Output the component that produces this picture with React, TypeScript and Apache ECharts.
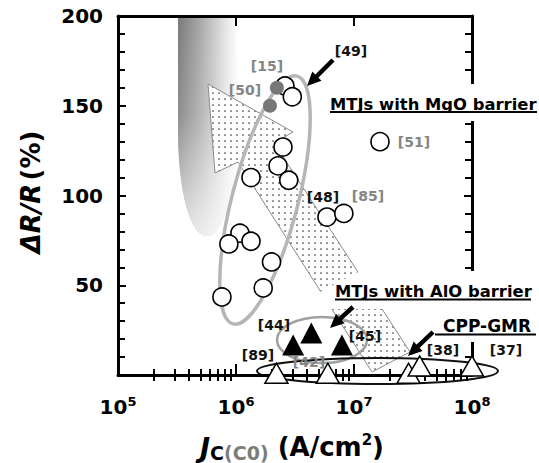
import React, { useEffect, useRef } from 'react';
import * as echarts from 'echarts';

// ---------- data ----------
// MTJs with MgO barrier (open circles)
const mgoJc = [2.6e6, 3.0e6, 2.5e6, 2.27e6, 2.8e6, 1.34e6, 5.9e6, 8.2e6, 1.66e7, 1.08e6, 8.7e5, 1.34e6, 2.0e6, 1.7e6, 7.6e5];
const mgoMR = [161, 155, 127, 116.5, 108.5, 110, 88, 90, 130, 79, 73, 74.5, 63, 48.5, 43.5];
// refs [15], [50] (grey filled circles)
const greyJc = [2.22e6, 1.94e6];
const greyMR = [160, 150];
// MTJs with AlO barrier (black triangles)
const aloJc = [3.05e6, 4.35e6, 7.9e6];
const aloMR = [16.7, 23.4, 16.7];
// CPP-GMR (open triangles)
const gmrJc = [2.2e6, 6.0e6, 2.9e7, 3.6e7, 1.0e8];
const gmrMR = [1, 1, 1, 5, 5];
// ticks
const xMajorTicks = [1e5, 1e6, 1e7, 1e8];
const yTickLabels = [50, 100, 150, 200];
const xMinorTicks: number[] = [];
for (let d = 5; d < 8; d++) for (let m = 2; m <= 9; m++) xMinorTicks.push(m * Math.pow(10, d));

const FONT = '"DejaVu Sans", "Liberation Sans", Arial, sans-serif';
const GREY_TXT = '#858585';

echarts.graphic.registerShape(
  'tongue',
  echarts.graphic.extendPath('M178,17 L238,17 L238,120 C238,190 224,236 207,236 C190,236 178,190 178,130 Z', {})
);

function arrowEls(x1: number, y1: number, x2: number, y2: number, w = 4.5, hl = 14, hw = 13) {
  const dx = x2 - x1, dy = y2 - y1, L = Math.hypot(dx, dy);
  const ux = dx / L, uy = dy / L, px = -uy, py = ux;
  const bx = x2 - ux * hl, by = y2 - uy * hl;
  return [
    { type: 'line', z: 31, shape: { x1, y1, x2: bx + ux * 2, y2: by + uy * 2 }, style: { stroke: '#000', lineWidth: w } },
    {
      type: 'polygon', z: 31,
      shape: { points: [[x2, y2], [bx + (px * hw) / 2, by + (py * hw) / 2], [bx - (px * hw) / 2, by - (py * hw) / 2]] },
      style: { fill: '#000' },
    },
  ];
}

function txt(text: string, x: number, y: number, font: string, fill: string, align = 'center') {
  return {
    type: 'text', z: 32, x, y,
    style: { text, font, fill, align, verticalAlign: 'middle', textAlign: align, textVerticalAlign: 'middle' },
  };
}

function buildGraphics(dotURL: string) {
  const dotFill: any = { image: dotURL, repeat: 'repeat', imageWidth: 6, imageHeight: 6 };
  const lbl = 'bold 14px ' + FONT;
  const big = 'bold 16.4px ' + FONT;
  const els: any[] = [
    // grey gradient tongue
    {
      type: 'tongue', z: 1,
      style: {
        fill: new echarts.graphic.LinearGradient(0, 0, 1, 0, [
          { offset: 0, color: '#7a7a7a' },
          { offset: 0.35, color: '#a6a6a6' },
          { offset: 0.8, color: '#e6e6e6' },
          { offset: 1, color: '#ffffff' },
        ]),
      },
    },
    {
      type: 'tongue', z: 2,
      style: {
        fill: new echarts.graphic.LinearGradient(0, 0, 0, 1, [
          { offset: 0, color: 'rgba(255,255,255,0)' },
          { offset: 0.45, color: 'rgba(255,255,255,0.15)' },
          { offset: 1, color: 'rgba(255,255,255,0.8)' },
        ]),
      },
    },
    // dotted big arrow
    {
      type: 'polygon', z: 3,
      shape: { points: [[208, 84], [293, 132], [274, 143], [410, 352], [372, 372], [238, 162], [215, 173]] },
      style: { fill: dotFill, stroke: '#8a8a8a', lineWidth: 1 },
    },
    // ellipses
    {
      type: 'ellipse', z: 4, x: 265, y: 200, rotation: -0.253,
      shape: { cx: 0, cy: 0, rx: 33, ry: 128 },
      style: { fill: 'none', stroke: '#b6b6b6', lineWidth: 3.5 },
    },
    {
      type: 'ellipse', z: 4,
      shape: { cx: 322, cy: 340, rx: 45, ry: 23 },
      style: { fill: 'none', stroke: '#a0a0a0', lineWidth: 2.5 },
    },
    {
      type: 'ellipse', z: 4,
      shape: { cx: 377.5, cy: 371, rx: 120.5, ry: 13 },
      style: { fill: 'none', stroke: '#111', lineWidth: 2 },
    },
    // white masks behind group labels
    { type: 'rect', z: 30, shape: { x: 324, y: 84, width: 215, height: 37 }, style: { fill: '#fff' } },
    { type: 'polygon', z: 30, shape: { points: [[320, 292], [360, 271], [539, 271], [539, 309], [330, 309]] }, style: { fill: '#fff' } },
    { type: 'rect', z: 30, shape: { x: 434, y: 308, width: 105, height: 34 }, style: { fill: '#fff' } },
    // group labels
    txt('MTJs with MgO barrier', 330, 104, big, '#000', 'left'),
    { type: 'line', z: 31, shape: { x1: 330, y1: 112, x2: 537, y2: 112 }, style: { stroke: '#000', lineWidth: 1.8 } },
    txt('MTJs with AlO barrier', 335, 291, big, '#000', 'left'),
    { type: 'line', z: 31, shape: { x1: 335, y1: 299.5, x2: 531, y2: 299.5 }, style: { stroke: '#000', lineWidth: 1.8 } },
    txt('CPP-GMR', 443, 326, 'bold 17px ' + FONT, '#000', 'left'),
    { type: 'line', z: 31, shape: { x1: 435, y1: 334.5, x2: 536, y2: 334.5 }, style: { stroke: '#000', lineWidth: 1.8 } },
    // reference labels
    txt('[15]', 267, 66, lbl, GREY_TXT),
    txt('[50]', 245, 90, lbl, GREY_TXT),
    txt('[49]', 351, 51, lbl, '#111'),
    txt('[51]', 414, 142, lbl, GREY_TXT),
    txt('[48]', 323, 197, lbl, '#111'),
    txt('[85]', 368, 196, lbl, GREY_TXT),
    txt('[44]', 274, 325, lbl, '#111'),
    txt('[45]', 365, 336, lbl, '#111'),
    txt('[89]', 258, 355, lbl, '#111'),
    txt('[42]', 309, 362, lbl, GREY_TXT),
    txt('[38]', 443, 350, lbl, '#111'),
    txt('[37]', 506, 350, lbl, '#111'),
    // arrows
    ...arrowEls(333, 60, 307, 86),
    ...arrowEls(353, 307, 330, 328),
    ...arrowEls(433, 332, 408, 356),
    // axis titles
    {
      type: 'text', z: 32, x: 31, y: 192, rotation: Math.PI / 2,
      style: {
        text: '{i|ΔR/R} {n|(%)}',
        align: 'center', verticalAlign: 'middle', textAlign: 'center', textVerticalAlign: 'middle',
        rich: {
          i: { font: 'italic bold 26px ' + FONT, fill: '#000', lineHeight: 30 },
          n: { font: 'bold 26px ' + FONT, fill: '#000', lineHeight: 30 },
        },
      },
    },
    {
      type: 'text', z: 32, x: 292, y: 447,
      style: {
        text: '{j|J}{s|C}{g|(C0)}{n| (A/cm}{p|2}{n|)}',
        align: 'center', verticalAlign: 'middle', textAlign: 'center', textVerticalAlign: 'middle',
        rich: {
          j: { font: 'italic bold 27px ' + FONT, fill: '#000', lineHeight: 30 },
          s: { font: 'bold 19px ' + FONT, fill: '#000', lineHeight: 19, verticalAlign: 'bottom' },
          g: { font: 'bold 19px ' + FONT, fill: '#7c7c7c', lineHeight: 19, verticalAlign: 'bottom' },
          n: { font: 'bold 26px ' + FONT, fill: '#000', lineHeight: 30 },
          p: { font: 'bold 15px ' + FONT, fill: '#000', lineHeight: 15, verticalAlign: 'top' },
        },
      },
    },
  ];
  return els;
}

export default function App() {
  const ref = useRef<HTMLDivElement>(null);
  useEffect(() => {
    document.body.style.margin = '0';
    if (!ref.current) return;
    const cv = document.createElement('canvas');
    cv.width = 6;
    cv.height = 6;
    const ctx = cv.getContext('2d')!;
    ctx.fillStyle = '#ffffff';
    ctx.fillRect(0, 0, 6, 6);
    ctx.fillStyle = '#3a3a3a';
    ctx.beginPath();
    ctx.arc(3, 3, 0.85, 0, Math.PI * 2);
    ctx.fill();
    const dotURL = cv.toDataURL();

    const chart = echarts.init(ref.current, null, { renderer: 'svg' });
    const axisLine = { show: true, onZero: false, lineStyle: { color: '#000', width: 3 } };
    const tickStyle = { color: '#000', width: 2 };
    const logBase = { type: 'log', logBase: 10, min: 1e5, max: 1e8, z: 10, splitLine: { show: false }, minorSplitLine: { show: false } };
    const valBase = {
      type: 'value', min: 0, max: 200, interval: 50, z: 10,
      splitLine: { show: false }, minorSplitLine: { show: false },
      axisTick: { show: true, inside: true, length: 8, lineStyle: tickStyle },
      minorTick: { show: true, splitNumber: 5, length: 7, lineStyle: tickStyle },
    };
    const option: any = {
      animation: false,
      backgroundColor: '#fff',
      grid: { left: 118, right: 67, top: 16, bottom: 88, containLabel: false, outerBoundsMode: 'none' },
      xAxis: [
        {
          ...logBase, position: 'bottom', axisLine,
          axisTick: { show: true, inside: true, length: 11, customValues: xMajorTicks, lineStyle: tickStyle },
          axisLabel: {
            show: true, customValues: xMajorTicks, margin: 20,
            formatter: (v: number) => `{b|10}{s|${Math.round(Math.log10(v))}}`,
            rich: {
              b: { fontSize: 20, fontWeight: 'bold', fontFamily: FONT, color: '#000', lineHeight: 24 },
              s: { fontSize: 13, fontWeight: 'bold', fontFamily: FONT, color: '#000', lineHeight: 13, verticalAlign: 'top' },
            },
          },
        },
        {
          ...logBase, position: 'bottom', axisLine: { show: false },
          axisTick: { show: true, inside: true, length: 6, customValues: xMinorTicks, lineStyle: tickStyle },
          axisLabel: { show: false },
        },
        {
          ...logBase, position: 'top', axisLine,
          axisTick: { show: true, inside: true, length: 10, customValues: xMajorTicks, lineStyle: tickStyle },
          axisLabel: { show: false },
        },
        {
          ...logBase, position: 'top', axisLine: { show: false },
          axisTick: { show: true, inside: true, length: 6, customValues: xMinorTicks, lineStyle: tickStyle },
          axisLabel: { show: false },
        },
      ],
      yAxis: [
        {
          ...valBase, position: 'left', axisLine,
          axisLabel: {
            show: true, margin: 15, color: '#000', fontSize: 20, fontWeight: 'bold', fontFamily: FONT,
            formatter: (v: number) => (yTickLabels.includes(v) ? String(v) : ''),
          },
        },
        { ...valBase, position: 'right', axisLine, axisLabel: { show: false } },
      ],
      series: [
        {
          type: 'scatter', name: 'MgO', xAxisIndex: 0, yAxisIndex: 0, z: 20, clip: false, silent: true,
          symbol: 'circle', symbolSize: 18,
          itemStyle: { color: '#fff', borderColor: '#000', borderWidth: 1.6, opacity: 1 },
          emphasis: { disabled: true },
          data: mgoJc.map((x, i) => [x, mgoMR[i]]),
        },
        {
          type: 'scatter', name: 'MgO grey', xAxisIndex: 0, yAxisIndex: 0, z: 21, clip: false, silent: true,
          symbol: 'circle', symbolSize: 14,
          itemStyle: { color: '#777', opacity: 1 },
          emphasis: { disabled: true },
          data: greyJc.map((x, i) => [x, greyMR[i]]),
        },
        {
          type: 'scatter', name: 'AlO', xAxisIndex: 0, yAxisIndex: 0, z: 20, clip: false, silent: true,
          symbol: 'triangle', symbolSize: [22, 21],
          itemStyle: { color: '#000', opacity: 1 },
          emphasis: { disabled: true },
          data: aloJc.map((x, i) => [x, aloMR[i]]),
        },
        {
          type: 'scatter', name: 'CPP-GMR', xAxisIndex: 0, yAxisIndex: 0, z: 20, clip: false, silent: true,
          symbol: 'triangle', symbolSize: [23, 20],
          itemStyle: { color: '#fff', borderColor: '#000', borderWidth: 1.5, opacity: 1 },
          emphasis: { disabled: true },
          data: gmrJc.map((x, i) => [x, gmrMR[i]]),
        },
      ],
      graphic: { elements: buildGraphics(dotURL) },
    };
    chart.setOption(option);
    return () => chart.dispose();
  }, []);
  return <div ref={ref} style={{ width: 539, height: 463 }} />;
}
